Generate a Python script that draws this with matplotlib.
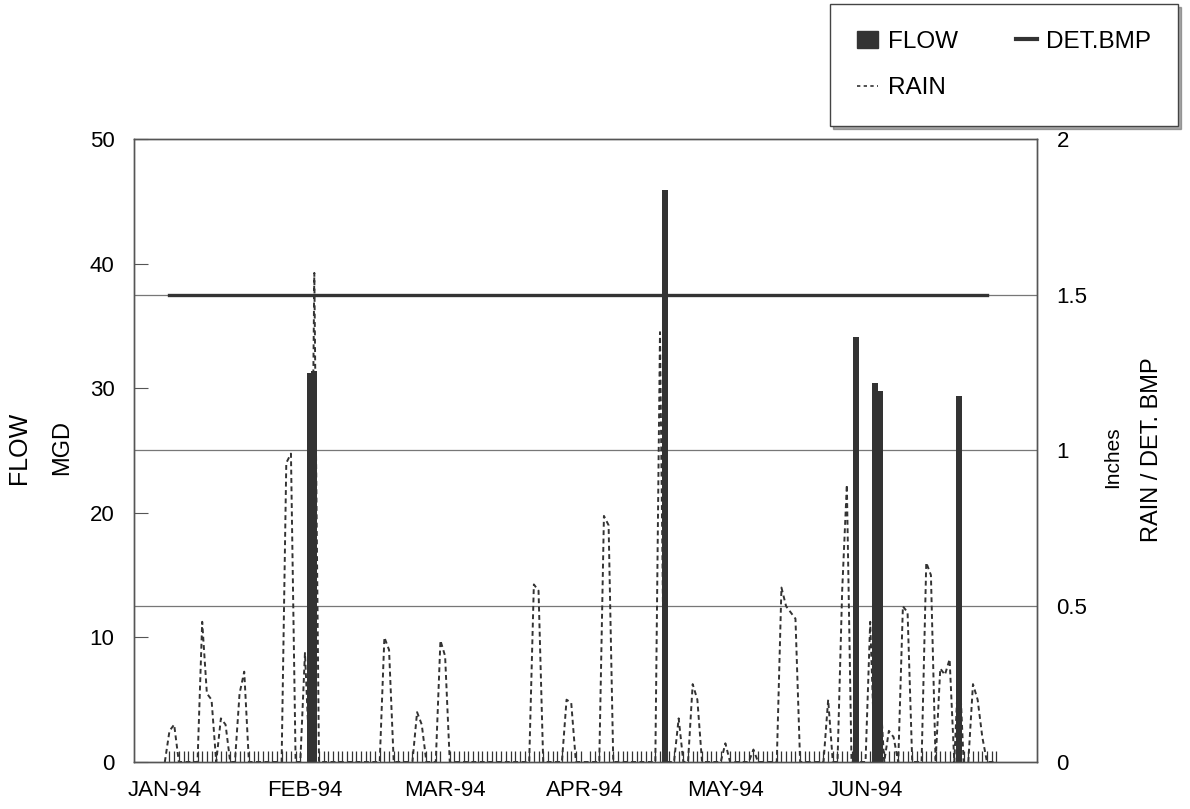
import matplotlib
matplotlib.use("Agg")
import matplotlib.pyplot as plt
from matplotlib.lines import Line2D
from matplotlib.patches import Patch
import numpy as np

plt.rcParams['font.family'] = ['Liberation Sans', 'DejaVu Sans']

# x axis: day number from 1 Jan 1994, one label every 30 days
month_labels = ['JAN-94', 'FEB-94', 'MAR-94', 'APR-94', 'MAY-94', 'JUN-94']
month_days = [0, 30, 60, 90, 120, 150]
n_days = 179

# flow (MGD), only the days with a bar
flow_days = [31, 32, 107, 148, 152, 153, 170]
flow_mgd = [31.2, 31.4, 45.9, 34.1, 30.4, 29.8, 29.4]

# rain (inches), days with rain; every other day is 0
rain_days = [1, 2, 8, 9, 10, 12, 13, 16, 17, 26, 27, 30, 32,
             47, 48, 54, 55, 59, 60, 79, 80, 86, 87, 94, 95, 106,
             110, 113, 114, 120, 126, 132, 133, 134, 135, 142, 145, 146,
             151, 153, 155, 156, 158, 159, 163, 164, 166, 167, 168,
             170, 173, 174, 175]
rain_in = [0.10, 0.12, 0.45, 0.22, 0.20, 0.14, 0.12, 0.22, 0.29, 0.96, 0.99, 0.35, 1.57,
           0.40, 0.36, 0.16, 0.12, 0.39, 0.34, 0.57, 0.55, 0.20, 0.19, 0.79, 0.76, 1.38,
           0.14, 0.25, 0.20, 0.06, 0.04, 0.56, 0.50, 0.48, 0.46, 0.20, 0.55, 0.89,
           0.45, 0.26, 0.10, 0.08, 0.50, 0.48, 0.64, 0.60, 0.30, 0.28, 0.33,
           0.34, 0.25, 0.20, 0.08]

# detention BMP level (inches)
det_bmp_days = [1, 176]
det_bmp_in = [1.5, 1.5]

days = np.arange(n_days)
rain = np.zeros(n_days)
rain[rain_days] = rain_in

dark = '#333333'
fig = plt.figure(figsize=(11.9, 8.09), dpi=100)
ax = fig.add_axes([0.1126, 0.0581, 0.7588, 0.7701])
ax2 = ax.twinx()

# gridlines at 0.5 / 1 / 1.5 inches
for g in [12.5, 25, 37.5]:
    ax.axhline(g, color='#777777', lw=0.9, zorder=1)

ax.bar(flow_days, flow_mgd, width=1.3, color=dark, zorder=3)
ax2.plot(days, rain, color=dark, lw=1.4, ls=(0, (2.5, 1.8)), zorder=2)
ax2.plot(det_bmp_days, det_bmp_in, color=dark, lw=2.4, zorder=4)

ax.set_xlim(-6.6, 186.7)
ax.set_ylim(0, 50)
ax2.set_ylim(0, 2)

ax.set_yticks([0, 10, 20, 30, 40, 50])
ax2.set_yticks([0, 0.5, 1, 1.5, 2])
ax2.set_yticklabels(['0', '0.5', '1', '1.5', '2'])
ax.set_xticks(month_days)
ax.set_xticklabels(month_labels)
ax.set_xticks(days, minor=True)

ax.tick_params(axis='y', direction='in', length=10, width=0.8, color='#555555',
               labelsize=16, pad=14)
ax.tick_params(axis='x', which='major', length=0, labelsize=16, pad=13)
ax.tick_params(axis='x', which='minor', direction='in', length=8, width=0.9, color=dark)
ax2.tick_params(axis='y', length=0, labelsize=16, pad=14)

for a in (ax, ax2):
    for s in a.spines.values():
        s.set_color('#555555')
        s.set_linewidth(1.0)

fig.text(0.016, 0.447, 'FLOW', rotation=90, ha='center', va='center', fontsize=18)
fig.text(0.052, 0.447, 'MGD', rotation=90, ha='center', va='center', fontsize=17)
fig.text(0.935, 0.435, 'Inches', rotation=90, ha='center', va='center', fontsize=15)
fig.text(0.968, 0.444, 'RAIN / DET. BMP', rotation=90, ha='center', va='center', fontsize=17)

handles = [Patch(facecolor=dark, edgecolor=dark),
           Line2D([], [], color=dark, lw=1.2, ls=(0, (2, 2))),
           Line2D([], [], color=dark, lw=3)]
leg = fig.legend(handles, ['FLOW', 'RAIN', 'DET.BMP'], ncol=2,
                 loc='upper right', bbox_to_anchor=(1178 / 1190, 1 - 4 / 809),
                 borderaxespad=0, fontsize=17.5, frameon=True, fancybox=False,
                 shadow={'color': '#555555'}, borderpad=1.1,
                 labelspacing=1.0, handlelength=0.85, handletextpad=0.4,
                 columnspacing=2.4)
leg.get_frame().set_edgecolor('#444444')
leg.get_frame().set_linewidth(1.0)

fig.savefig('out.png', dpi=100)
